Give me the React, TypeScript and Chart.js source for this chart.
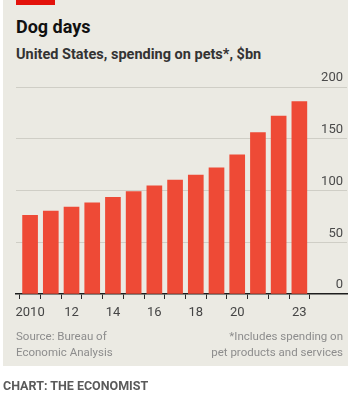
import React, { useEffect, useRef } from "react";
import { Chart, registerables } from "chart.js";

Chart.register(...registerables);

const years = [2010, 2011, 2012, 2013, 2014, 2015, 2016, 2017, 2018, 2019, 2020, 2021, 2022, 2023];
const spending = [76, 80, 84, 88, 93.5, 99, 104.5, 110, 115, 122, 134.5, 156, 172, 186];
const labeledYears: Record<number, string> = { 2010: "2010", 2012: "12", 2014: "14", 2016: "16", 2018: "18", 2020: "20", 2023: "23" };
const yTicks = [0, 50, 100, 150, 200];

const FONT = "Roboto, 'Noto Sans', sans-serif";

export default function App() {
  const ref = useRef<HTMLCanvasElement | null>(null);

  useEffect(() => {
    document.body.style.margin = "0";
    const canvas = ref.current!;
    const chart = new Chart(canvas, {
      type: "bar",
      data: {
        datasets: [
          {
            data: years.map((y, i) => ({ x: y, y: spending[i] })),
            backgroundColor: "#ee4a36",
            borderWidth: 0,
            barThickness: 15,
          },
        ],
      },
      options: {
        animation: false,
        responsive: false,
        maintainAspectRatio: false,
        events: [],
        layout: { padding: { left: 16, right: 7, top: 21, bottom: 0 } },
        plugins: { legend: { display: false }, tooltip: { enabled: false }, title: { display: false } },
        scales: {
          x: {
            type: "linear",
            min: 2009.32,
            max: 2025.3,
            offset: false,
            afterBuildTicks: (scale: any) => {
              scale.ticks = years.map((v) => ({ value: v }));
            },
            afterFit: (scale: any) => {
              scale.height = 36;
            },
            ticks: {
              includeBounds: false,
              autoSkip: false,
              maxRotation: 0,
              padding: 6,
              color: "#454545",
              font: { family: FONT, size: 13 },
              callback: (v: any) => labeledYears[Number(v)] ?? "",
            },
            grid: {
              drawOnChartArea: false,
              drawTicks: true,
              tickLength: 5,
              tickColor: "#2a2a2a",
              tickWidth: 1,
            },
            border: { display: true, color: "#1e1e1e", width: 1.5 },
          },
          y: {
            position: "right",
            min: 0,
            max: 200,
            afterBuildTicks: (scale: any) => {
              scale.ticks = yTicks.map((v) => ({ value: v }));
            },
            afterFit: (scale: any) => {
              scale.width = 0;
            },
            ticks: {
              mirror: true,
              padding: -4,
              labelOffset: -9,
              color: "#4a4a4a",
              font: { family: FONT, size: 13 },
            },
            grid: {
              drawTicks: false,
              color: (ctx: any) => (ctx.tick && ctx.tick.value === 0 ? "rgba(0,0,0,0)" : "#cfcec6"),
              lineWidth: 1,
            },
            border: { display: false },
          },
        },
      },
    } as any);
    return () => chart.destroy();
  }, []);

  const abs = (s: React.CSSProperties): React.CSSProperties => ({ position: "absolute", margin: 0, whiteSpace: "nowrap", fontFamily: FONT, ...s });

  return (
    <div style={{ position: "relative", width: 354, height: 418, background: "#ffffff", overflow: "hidden" }}>
      <div style={abs({ left: 3, top: 0, width: 345, height: 366, background: "#ebeae3" })} />
      <div style={abs({ left: 16, top: 0, width: 39, height: 5, background: "#e3120b" })} />
      <div style={abs({ left: 16, top: 18, fontSize: 18, lineHeight: "18px", fontWeight: 700, color: "#111" })}>Dog days</div>
      <div style={abs({ left: 16, top: 47, fontSize: 14.5, lineHeight: "15px", fontWeight: 700, color: "#333" })}>
        United States, spending on pets*, $bn
      </div>
      <canvas ref={ref} width={354} height={264} style={{ position: "absolute", left: 0, top: 66, width: 354, height: 264 }} />
      <div style={abs({ left: 16, top: 328, fontSize: 11.5, lineHeight: "16px", color: "#8d8d8d" })}>
        Source: Bureau of
        <br />
        Economic Analysis
      </div>
      <div style={abs({ right: 11, top: 328, fontSize: 11.5, lineHeight: "16px", color: "#8d8d8d", textAlign: "right" })}>
        *Includes spending on
        <br />
        pet products and services
      </div>
      <div style={abs({ left: 3, top: 379, fontSize: 12.5, lineHeight: "14px", fontWeight: 700, color: "#5a5a5a" })}>
        CHART: THE ECONOMIST
      </div>
    </div>
  );
}
